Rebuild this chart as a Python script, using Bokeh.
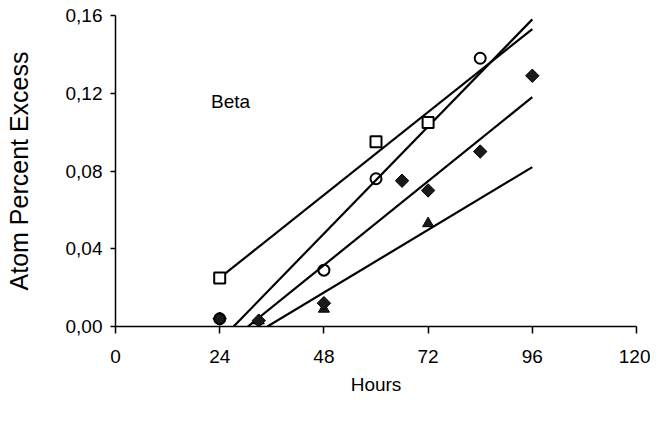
import math
from bokeh.plotting import figure
from bokeh.models import FixedTicker, Label, Range1d
from bokeh.embed import file_html
from bokeh.resources import INLINE

# ---- data ----
square_x = [24, 60, 72]
square_y = [0.025, 0.095, 0.105]

circle_x = [24, 48, 60, 84]
circle_y = [0.004, 0.029, 0.076, 0.138]

diamond_x = [24, 33, 48, 66, 72, 84, 96]
diamond_y = [0.004, 0.003, 0.012, 0.075, 0.070, 0.090, 0.129]

triangle_x = [24, 33, 48, 72]
triangle_y = [0.004, 0.003, 0.009, 0.053]

# fitted lines (start and end points)
fit_square_x = [24, 96]
fit_square_y = [0.025, 0.153]
fit_circle_x = [27.2, 96]
fit_circle_y = [0.0, 0.158]
fit_diamond_x = [30.5, 96]
fit_diamond_y = [0.0, 0.118]
fit_triangle_x = [35, 96]
fit_triangle_y = [0.0, 0.082]

x_ticks = [0, 24, 48, 72, 96, 120]
y_ticks = [0.0, 0.04, 0.08, 0.12, 0.16]
y_tick_labels = ["0,00", "0,04", "0,08", "0,12", "0,16"]

FONT = "Liberation Sans"

p = figure(
    frame_width=521, frame_height=311,
    min_border_left=115, min_border_right=14,
    min_border_top=15, min_border_bottom=85,
    x_range=Range1d(0, 120), y_range=Range1d(0, 0.16),
    output_backend="svg", toolbar_location=None,
)
p.outline_line_color = None
p.xgrid.visible = False
p.ygrid.visible = False
p.background_fill_color = "white"
p.border_fill_color = "white"

# lines
for xs, ys in [(fit_square_x, fit_square_y), (fit_circle_x, fit_circle_y),
               (fit_diamond_x, fit_diamond_y), (fit_triangle_x, fit_triangle_y)]:
    p.line(xs, ys, line_color="black", line_width=2.2)

# markers
p.scatter(triangle_x, triangle_y, marker="triangle", size=11,
          fill_color="#1a1a1a", line_color="black", line_width=1)
p.scatter(diamond_x, diamond_y, marker="square", size=9.5, angle=math.pi / 4,
          fill_color="#1a1a1a", line_color="black", line_width=1)
p.scatter(circle_x, circle_y, marker="circle", size=11,
          fill_color="white", fill_alpha=0.0, line_color="black", line_width=2)
p.scatter(square_x, square_y, marker="square", size=11,
          fill_color="white", line_color="black", line_width=2)

p.add_layout(Label(x=22, y=0.116, text="Beta", text_font=FONT,
                   text_font_size="19px", text_color="black",
                   text_baseline="middle", text_align="left"))

# axes
xa = p.xaxis[0]
xa.ticker = FixedTicker(ticks=x_ticks)
xa.minor_tick_line_color = None
xa.major_tick_out = 7
xa.major_tick_in = 0
xa.major_tick_line_width = 1.5
xa.axis_line_width = 1.5
xa.major_label_standoff = 16
xa.major_label_text_font = FONT
xa.major_label_text_font_size = "19px"
xa.major_label_text_color = "black"
xa.axis_label = "Hours"
xa.axis_label_text_font = FONT
xa.axis_label_text_font_size = "19px"
xa.axis_label_text_font_style = "normal"
xa.axis_label_standoff = 8
xa.axis_label_text_color = "black"

ya = p.yaxis[0]
ya.ticker = FixedTicker(ticks=y_ticks)
ya.major_label_overrides = {t: l for t, l in zip(y_ticks, y_tick_labels)}
ya.minor_tick_line_color = None
ya.major_tick_out = 5
ya.major_tick_in = 0
ya.major_tick_line_width = 1.5
ya.axis_line_width = 1.5
ya.major_label_standoff = 8
ya.major_label_text_font = FONT
ya.major_label_text_font_size = "19px"
ya.major_label_text_color = "black"
ya.axis_label = "Atom Percent Excess"
ya.axis_label_text_font = FONT
ya.axis_label_text_font_size = "25px"
ya.axis_label_text_font_style = "normal"
ya.axis_label_standoff = 30
ya.axis_label_text_color = "black"

open("out.html", "w").write(file_html(p, INLINE))
